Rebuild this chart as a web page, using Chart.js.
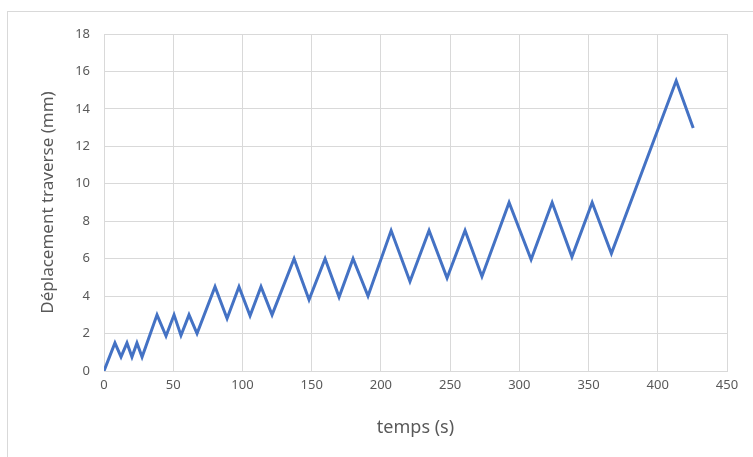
<!DOCTYPE html>
<html>
<head>
<meta charset="utf-8">
<script src="https://cdn.jsdelivr.net/npm/chart.js@4/dist/chart.umd.min.js"></script>
<style>
  html, body { margin: 0; padding: 0; background: #fff; }
  #wrap { position: relative; width: 753px; height: 457px; overflow: hidden; }
  #frame { position: absolute; left: 7px; top: 11px; width: 760px; height: 460px;
           border-left: 1px solid #d9d9d9; border-top: 1px solid #d9d9d9; }
  canvas { position: absolute; left: 0; top: 0; }
</style>
</head>
<body>
<div id="wrap">
  <div id="frame"></div>
  <canvas id="myChart" width="753" height="457"></canvas>
</div>
<script>
// temps (s) and déplacement traverse (mm)
var temps = [0, 7.9, 12.3, 16.6, 20.2, 23.8, 27.5, 38.3, 44.8, 50.6, 55.6, 61.4, 67.2,
  80.2, 88.9, 97.5, 105.5, 113.4, 121.4, 137.3, 148.1, 159.7, 169.8, 179.9, 190.7,
  207.4, 221, 234.8, 247.8, 260.8, 273, 292.6, 308.5, 323.7, 338, 352.6, 366.5,
  413.3, 425.6];
var deplacement = [0, 1.5, 0.75, 1.5, 0.75, 1.5, 0.75, 3, 1.87, 3, 1.9, 3, 2.0,
  4.5, 2.8, 4.5, 2.95, 4.5, 3.0, 6.0, 3.8, 6.0, 3.95, 6.0, 4.0,
  7.5, 4.78, 7.5, 4.97, 7.5, 5.05, 9.0, 5.95, 9.0, 6.1, 9.0, 6.28,
  15.5, 12.98];

var xMin = 0, xMax = 450, xStep = 50;
var yMin = 0, yMax = 18, yStep = 2;

var points = temps.map(function(t, i){ return {x: t, y: deplacement[i]}; });

var tickFont = {family: "Noto Sans", size: 13};
var grey = "#595959";
var gridColor = "#d9d9d9";

var ctx = document.getElementById("myChart").getContext("2d");
var chart = new Chart(ctx, {
  type: "line",
  data: {
    datasets: [{
      data: points,
      borderColor: "#4472c4",
      borderWidth: 3,
      pointRadius: 0,
      fill: false,
      tension: 0
    }]
  },
  options: {
    responsive: false,
    animation: false,
    layout: { padding: { left: 34, top: 34, right: 26, bottom: 14 } },
    plugins: { legend: { display: false }, tooltip: { enabled: false } },
    scales: {
      x: {
        type: "linear",
        min: xMin, max: xMax,
        ticks: { stepSize: xStep, color: grey, font: tickFont, padding: 6 },
        grid: { color: gridColor, lineWidth: 1, drawTicks: false },
        border: { color: gridColor },
        title: { display: true, text: "temps (s)", color: grey, font: {family: "Noto Sans", size: 18} },
        afterFit: function(scale){ scale.height = 457 - 14 - 371; }
      },
      y: {
        min: yMin, max: yMax,
        ticks: { stepSize: yStep, color: grey, font: tickFont, padding: 14 },
        grid: { color: gridColor, lineWidth: 1, drawTicks: false },
        border: { color: gridColor },
        title: { display: true, text: "Déplacement traverse (mm)", color: grey, font: {family: "Noto Sans", size: 17} },
        afterFit: function(scale){ scale.width = 104 - 34; }
      }
    }
  }
});
</script>
</body>
</html>
